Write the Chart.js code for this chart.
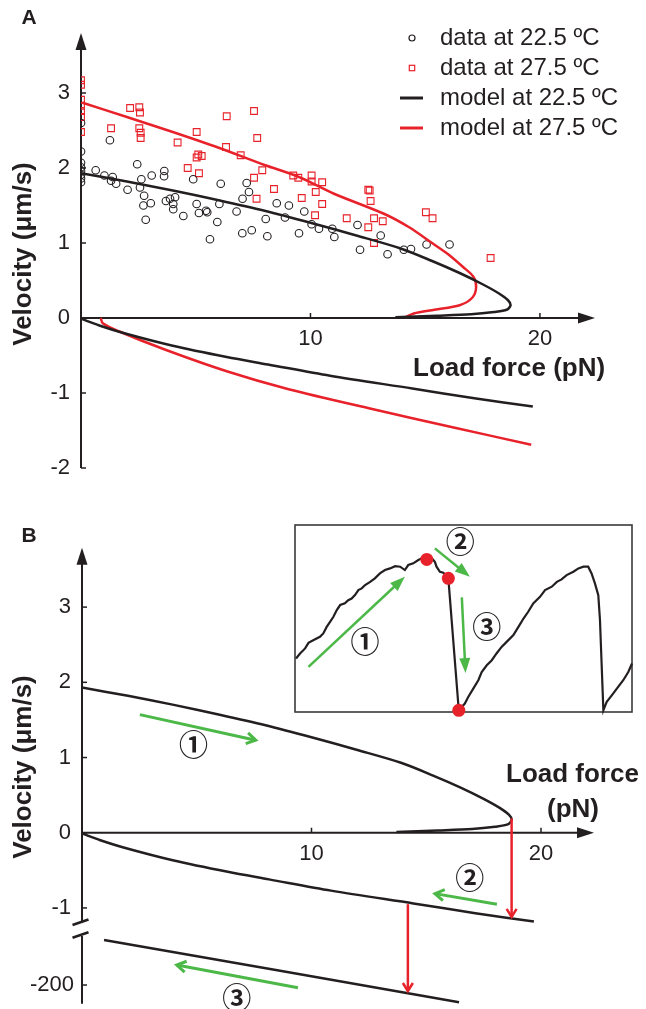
<!DOCTYPE html>
<html>
<head>
<meta charset="utf-8">
<script src="https://cdn.jsdelivr.net/npm/chart.js@4.4.1/dist/chart.umd.min.js"></script>
<style>
  body { margin: 0; background: #fff; }
  #wrap { position: relative; width: 646px; height: 1009px; overflow: hidden; }
  canvas { position: absolute; }
</style>
</head>
<body>
<div id="wrap">
  <canvas id="chartA" width="646" height="500" style="left:0;top:0"></canvas>
  <canvas id="chartB" width="646" height="509" style="left:0;top:500px"></canvas>
  <canvas id="inset" width="357" height="207" style="left:285px;top:515px"></canvas>
</div>
<script>
// ---- panel A: measured velocities (force in pN, velocity in µm/s) ----
const circleForce = [0, 0, 0, 0, 0, 0, 0, 0, 0.64, 1.02, 1.26, 1.31, 1.38, 1.53, 2.03, 2.45, 2.57, 2.63,
  2.72, 2.75, 2.82, 3.04, 3.08, 3.62, 3.63, 3.70, 3.88, 4.02, 4.02, 4.10, 4.46, 4.89, 5.04, 5.14, 5.45, 5.50,
  5.62, 5.94, 6.03, 6.09, 6.78, 7.03, 7.04, 7.22, 7.32, 7.44, 8.05, 8.12, 8.53, 8.89, 9.06, 9.50, 9.73, 10.05,
  10.37, 10.95, 11.04, 12.05, 12.16, 13.06, 13.36, 14.07, 14.38, 15.06, 16.06];
const circleVel = [2.60, 2.22, 2.07, 2.01, 1.96, 1.91, 1.86, 1.81, 1.97, 1.90, 2.37, 1.83, 1.88, 1.79, 1.71, 2.05, 1.74, 1.85,
  1.50, 1.63, 1.31, 1.53, 1.90, 1.89, 1.96, 1.56, 1.59, 1.52, 1.45, 1.61, 1.36, 1.85, 1.52, 1.40, 1.43, 1.41,
  1.05, 1.28, 1.52, 1.79, 1.42, 1.13, 1.59, 1.80, 1.68, 1.17, 1.32, 1.09, 1.53, 1.34, 1.50, 1.13, 1.42, 1.25,
  1.19, 1.19, 1.08, 1.24, 0.91, 1.10, 0.85, 0.91, 0.92, 0.98, 0.98];

const squareForce = [0, 0, 0, 0, 0, 0, 0, 1.31, 2.14, 2.54, 2.57, 2.54, 2.60, 2.60, 4.21, 4.65, 5.04,
  5.04, 5.11, 5.14, 5.26, 6.32, 6.35, 6.96, 7.54, 7.54, 7.65, 7.68, 7.90, 8.41, 9.25, 9.47, 9.62, 10.05, 10.05,
  10.20, 10.23, 10.51, 10.51, 11.58, 12.52, 12.58, 12.52, 12.62, 12.77, 12.77, 13.15, 15.03, 15.32, 17.85];
const squareVel = [3.17, 3.11, 2.91, 2.83, 2.76, 2.68, 2.48, 2.53, 2.80, 2.81, 2.74, 2.53, 2.47, 2.40, 2.34, 2.00, 2.48,
  2.14, 2.18, 1.93, 2.16, 2.28, 2.69, 2.17, 2.76, 1.87, 1.59, 2.40, 1.97, 1.72, 1.90, 1.87, 1.60, 1.90, 1.82,
  1.37, 1.68, 1.81, 1.52, 1.33, 1.71, 1.70, 1.21, 1.56, 1.33, 1.00, 1.29, 1.41, 1.33, 0.80];

// ---- model curves ----
const coldUpF = [0, 2, 4, 6, 8, 10, 12, 13.9, 15.3, 16.5, 17.5, 18.2, 18.6, 18.72, 18.55, 18.0, 17.0, 15.5, 13.7];
const coldUpV = [1.93, 1.82, 1.70, 1.57, 1.43, 1.27, 1.10, 0.93, 0.76, 0.60, 0.45, 0.33, 0.24, 0.17, 0.11, 0.08, 0.05, 0.03, 0.01];
const coldLowF = [0, 0.8, 1.85, 4, 6.35, 8.15, 10.85, 14.44, 17.14, 19.69];
const coldLowV = [-0.01, -0.10, -0.20, -0.37, -0.52, -0.62, -0.77, -0.94, -1.07, -1.18];

const warmUpF = [0.07, 2, 4, 6, 8, 9.5, 11, 13.2, 14.3, 15.3, 16.0, 16.65, 17.1, 17.22, 17.05, 16.5, 15.4, 14.5, 14.15];
const warmUpV = [2.87, 2.68, 2.48, 2.27, 2.04, 1.88, 1.66, 1.39, 1.21, 1.00, 0.85, 0.68, 0.55, 0.41, 0.27, 0.17, 0.11, 0.06, 0.01];
const warmLowF = [0.86, 0.95, 1.67, 3.65, 6.35, 9.05, 12.64, 16.24, 19.62];
const warmLowV = [0, -0.07, -0.18, -0.42, -0.71, -0.95, -1.21, -1.46, -1.69];

// ---- panel B: third (fast) branch, velocity in µm/s on the broken axis ----
const branch3F = [0.96, 16.43];
const branch3V = [-140, -223];

// tick labels
const xTicks = [10, 20];
const yTicksA = [-2, -1, 0, 1, 2, 3];
const yTicksB = [-1, 0, 1, 2, 3];
const yTicksBLow = [-200];
const legendLabels = ['data at 22.5 ºC', 'data at 27.5 ºC', 'model at 22.5 ºC', 'model at 27.5 ºC'];
const circled = ['①', '②', '③'];

// panel B annotations: [force, velocity] pairs, tail -> head
const stepArrows = [
  { from: [2.52, 1.57], to: [7.57, 1.23], axis: ['y', 'y'] },
  { from: [18.08, -0.95], to: [15.38, -0.81], axis: ['y', 'y'] },
  { from: [9.41, -203.6], to: [4.13, -173.4], axis: ['yLow', 'yLow'] }
];
const jumpArrows = [
  { from: [18.72, 0.19], to: [18.72, -1.12], axis: ['y', 'y'] },
  { from: [14.2, -0.95], to: [14.2, -208], axis: ['y', 'yLow'] }
];
const stepLabels = [
  { at: [4.86, 1.17], axis: 'y' },
  { at: [16.9, -0.60], axis: 'y' },
  { at: [6.74, -217.5], axis: 'yLow' }
];

// ---- inset: force trace (time, force in arbitrary units) ----
const traceT = [0.3, 1.5, 3.0, 4.0, 5.4, 7.4, 8.4, 9.4, 10.4, 11.4, 12.4, 13.4, 14.8, 15.8, 16.8, 17.8, 18.8, 19.8,
  20.8, 22.3, 23.7, 25.2, 26.7, 28.2, 29.7, 31.2, 32.6, 33.6, 35.1, 36.6, 37.6, 39.1, 40.6, 41.5, 42.0, 43.0, 44.0,
  45.5, 48.6, 50.4, 51.4, 52.9, 54.4, 55.4, 56.9, 58.4, 59.8, 61.3, 62.8, 64.8, 66.3, 67.8, 69.2, 70.7, 72.7, 74.2,
  76.2, 77.7, 79.1, 80.6, 82.6, 84.1, 85.6, 87.0, 88.0, 89.0, 90.0, 90.5, 91.0, 91.5, 92.5, 94.0, 95.5, 97.4, 98.9, 100];
const traceF = [28.6, 31.3, 34.0, 37.0, 38.4, 40.2, 42.0, 45.5, 48.2, 50.9, 54.5, 57.2, 58.1, 59.8, 60.7, 62.5, 65.2, 66.1,
  67.9, 69.6, 71.5, 74.1, 75.9, 76.8, 78.0, 77.7, 75.9, 78.6, 79.5, 81.3, 82.2, 81.6, 82.2, 80.3, 77.7, 75.0, 74.5,
  71.5, 0.9, 4.5, 8.0, 12.5, 17.0, 21.4, 25.0, 27.7, 31.3, 34.8, 37.5, 41.1, 45.5, 50.0, 53.6, 58.1, 61.6, 65.2,
  67.0, 69.6, 70.9, 73.2, 75.0, 76.8, 77.7, 77.7, 74.1, 68.8, 62.5, 49.1, 25.0, 0.9, 5.4, 8.9, 12.5, 17.0, 21.4, 25.9];
const dotT = [39.1, 45.5, 48.6];
const dotF = [81.6, 71.5, 0.9];
const insetArrows = [
  { from: [4.0, 24.1], to: [32.6, 72.3] },
  { from: [41.5, 87.5], to: [51.9, 72.3] },
  { from: [49.5, 61.3], to: [50.6, 20.8] }
];
const insetLabels = [[20.8, 37.5], [49.0, 91.0], [56.9, 45.5]];

// ---- styling ----
const FONT = '"Liberation Sans", Arial, Helvetica, sans-serif';
const CIRCLE_FONT = 'bold 29px "Noto Sans CJK JP", "DejaVu Sans", sans-serif';
const INK = '#231f20';
const RED = '#e8222a';
const GREEN = '#4cb848';
const AXIS_HEAD = { color: INK, width: 2, len: 17, half: 5.5, filled: true };

const pts = (xs, ys) => xs.map((x, i) => ({ x: x, y: ys[i] }));

function arrow(ctx, x1, y1, x2, y2, o) {
  const a = Math.atan2(y2 - y1, x2 - x1);
  const c = Math.cos(a), s = Math.sin(a);
  ctx.save();
  ctx.strokeStyle = o.color;
  ctx.fillStyle = o.color;
  ctx.lineWidth = o.width;
  ctx.beginPath();
  ctx.moveTo(x1, y1);
  if (o.filled) ctx.lineTo(x2 - c * o.len * 0.8, y2 - s * o.len * 0.8);
  else ctx.lineTo(x2, y2);
  ctx.stroke();
  const bx = x2 - c * o.len, by = y2 - s * o.len;
  const px = -s * o.half, py = c * o.half;
  ctx.beginPath();
  ctx.moveTo(bx + px, by + py);
  ctx.lineTo(x2, y2);
  ctx.lineTo(bx - px, by - py);
  if (o.filled) {
    ctx.closePath();
    ctx.fill();
  } else {
    ctx.lineJoin = 'miter';
    ctx.stroke();
  }
  ctx.restore();
}

function seg(ctx, x1, y1, x2, y2) {
  ctx.beginPath();
  ctx.moveTo(x1, y1);
  ctx.lineTo(x2, y2);
  ctx.stroke();
}

function text(ctx, str, x, y, font, align) {
  ctx.font = font;
  ctx.fillStyle = INK;
  ctx.textAlign = align || 'center';
  ctx.textBaseline = 'middle';
  ctx.fillText(str, x, y);
}

function vertText(ctx, str, x, y, font) {
  ctx.save();
  ctx.translate(x, y);
  ctx.rotate(-Math.PI / 2);
  text(ctx, str, 0, 0, font);
  ctx.restore();
}

function xAxisWithTicks(ctx, chart) {
  const { chartArea: area, scales: { x, y } } = chart;
  const x0 = x.getPixelForValue(0), y0 = y.getPixelForValue(0);
  arrow(ctx, x0 - 1, y0, area.right, y0, AXIS_HEAD);
  ctx.strokeStyle = INK;
  ctx.lineWidth = 1.5;
  xTicks.forEach(f => {
    const px = x.getPixelForValue(f);
    seg(ctx, px, y0, px, y0 - 5);
    text(ctx, String(f), px, y0 + 21, '22px ' + FONT);
  });
}

function yTicksDraw(ctx, scale, x0, values) {
  ctx.strokeStyle = INK;
  ctx.lineWidth = 1.5;
  values.forEach(v => {
    const py = scale.getPixelForValue(v);
    seg(ctx, x0, py, x0 + 5, py);
    text(ctx, String(v), x0 - 11, py, '22px ' + FONT, 'right');
  });
}

// ---------------- panel A ----------------
const panelA = {
  id: 'panelA',
  beforeDatasetsDraw(chart) {
    const { ctx, chartArea: area, scales: { x, y } } = chart;
    const x0 = x.getPixelForValue(0);
    ctx.save();
    arrow(ctx, x0, y.getPixelForValue(yTicksA[0]), x0, area.top, AXIS_HEAD);
    xAxisWithTicks(ctx, chart);
    yTicksDraw(ctx, y, x0, yTicksA);
    ctx.restore();
  },
  afterDraw(chart) {
    const ctx = chart.ctx;
    ctx.save();
    text(ctx, 'A', 29, 18, 'bold 21px ' + FONT);
    vertText(ctx, 'Velocity (μm/s)', 24, 254, 'bold 26px ' + FONT);
    text(ctx, 'Load force (pN)', 413, 369, 'bold 26px ' + FONT, 'left');
    // legend
    const rows = [38, 68, 98, 128];
    const mx = 412;
    ctx.lineWidth = 1.2;
    ctx.strokeStyle = INK;
    ctx.beginPath();
    ctx.arc(mx, rows[0], 3, 0, Math.PI * 2);
    ctx.stroke();
    ctx.strokeStyle = RED;
    ctx.strokeRect(mx - 2.7, rows[1] - 2.7, 5.4, 5.4);
    ctx.lineWidth = 3;
    ctx.strokeStyle = INK;
    seg(ctx, 400, rows[2], 423, rows[2]);
    ctx.strokeStyle = RED;
    seg(ctx, 400, rows[3], 423, rows[3]);
    legendLabels.forEach((l, i) => text(ctx, l, 440, rows[i], '24px ' + FONT, 'left'));
    ctx.restore();
  }
};

const lineStyle = (color) => ({ showLine: true, pointRadius: 0, borderColor: color, borderWidth: 2.5, tension: 0.3, fill: false });

new Chart(document.getElementById('chartA'), {
  type: 'scatter',
  data: {
    datasets: [
      Object.assign({ label: legendLabels[2], data: pts(coldUpF, coldUpV), order: 1 }, lineStyle(INK)),
      Object.assign({ label: legendLabels[2], data: pts(coldLowF, coldLowV), order: 1 }, lineStyle(INK)),
      Object.assign({ label: legendLabels[3], data: pts(warmUpF, warmUpV), order: 1 }, lineStyle(RED)),
      Object.assign({ label: legendLabels[3], data: pts(warmLowF, warmLowV), order: 1 }, lineStyle(RED)),
      {
        label: legendLabels[0], data: pts(circleForce, circleVel), order: 2,
        pointStyle: 'circle', pointRadius: 3.8, borderWidth: 1.1,
        borderColor: INK, backgroundColor: 'rgba(255,255,255,0)'
      },
      {
        label: legendLabels[1], data: pts(squareForce, squareVel), order: 2,
        pointStyle: 'rect', pointRadius: 4.8, borderWidth: 1.1,
        borderColor: RED, backgroundColor: 'rgba(255,255,255,0)'
      }
    ]
  },
  options: {
    responsive: false,
    animation: false,
    layout: { padding: { left: 81, right: 51, top: 33, bottom: 24.5 } },
    scales: {
      x: { type: 'linear', min: 0, max: 22.4, display: false },
      y: { type: 'linear', min: -2.1, max: 3.8, display: false }
    },
    plugins: { legend: { display: false }, tooltip: { enabled: false } }
  },
  plugins: [panelA]
});

// ---------------- panel B ----------------
const panelB = {
  id: 'panelB',
  beforeDatasetsDraw(chart) {
    const { ctx, chartArea: area, scales: { x, y, yLow } } = chart;
    const x0 = x.getPixelForValue(0);
    ctx.save();
    const brkTop = y.getPixelForValue(-1.19), brkBot = y.getPixelForValue(-1.36);
    arrow(ctx, x0, brkTop - 1, x0, area.top, AXIS_HEAD);
    ctx.strokeStyle = INK;
    ctx.lineWidth = 2;
    seg(ctx, x0, brkBot + 1, x0, area.bottom - 2);
    ctx.lineWidth = 2.6;
    [brkTop, brkBot].forEach(yc => seg(ctx, x0 - 9.5, yc + 2.7, x0 + 6.5, yc - 2.7));
    xAxisWithTicks(ctx, chart);
    yTicksDraw(ctx, y, x0, yTicksB);
    ctx.strokeStyle = INK;
    ctx.lineWidth = 1.5;
    yTicksBLow.forEach(v => {
      const py = yLow.getPixelForValue(v);
      seg(ctx, x0, py, x0 + 5, py);
      text(ctx, String(v), x0 - 8, py, '22px ' + FONT, 'right');
    });
    ctx.restore();
  },
  afterDraw(chart) {
    const { ctx, scales } = chart;
    const x = scales.x;
    ctx.save();
    text(ctx, 'B', 29, 36, 'bold 21px ' + FONT);
    vertText(ctx, 'Velocity (μm/s)', 24, 267, 'bold 26px ' + FONT);
    text(ctx, 'Load force', 506, 275, 'bold 26px ' + FONT, 'left');
    text(ctx, '(pN)', 573, 310, 'bold 26px ' + FONT);
    jumpArrows.forEach(a => {
      arrow(ctx, x.getPixelForValue(a.from[0]), scales[a.axis[0]].getPixelForValue(a.from[1]),
        x.getPixelForValue(a.to[0]), scales[a.axis[1]].getPixelForValue(a.to[1]),
        { color: RED, width: 2.5, len: 8, half: 5, filled: false });
    });
    stepArrows.forEach(a => {
      arrow(ctx, x.getPixelForValue(a.from[0]), scales[a.axis[0]].getPixelForValue(a.from[1]),
        x.getPixelForValue(a.to[0]), scales[a.axis[1]].getPixelForValue(a.to[1]),
        { color: GREEN, width: 3, len: 9, half: 5.5, filled: false });
    });
    stepLabels.forEach((l, i) => {
      text(ctx, circled[i], x.getPixelForValue(l.at[0]), scales[l.axis].getPixelForValue(l.at[1]), CIRCLE_FONT);
    });
    ctx.restore();
  }
};

// broken axis: -200 µm/s sits at main value -2.025, with 100 µm/s per main unit below the break
const B_MIN = -2.3, B_MAX = 3.79, LOW_AT = -2.025, LOW_PER_UNIT = 100;

new Chart(document.getElementById('chartB'), {
  type: 'scatter',
  data: {
    datasets: [
      Object.assign({ label: 'branch 1', data: pts(coldUpF, coldUpV) }, lineStyle(INK)),
      Object.assign({ label: 'branch 2', data: pts(coldLowF, coldLowV) }, lineStyle(INK)),
      Object.assign({ label: 'branch 3', data: pts(branch3F, branch3V), yAxisID: 'yLow' }, lineStyle(INK))
    ]
  },
  options: {
    responsive: false,
    animation: false,
    layout: { padding: { left: 82, right: 52, top: 47.7, bottom: 3.3 } },
    scales: {
      x: { type: 'linear', min: 0, max: 22.31, display: false },
      y: { type: 'linear', min: B_MIN, max: B_MAX, display: false },
      yLow: {
        type: 'linear', display: false,
        min: -200 + (B_MIN - LOW_AT) * LOW_PER_UNIT,
        max: -200 + (B_MAX - LOW_AT) * LOW_PER_UNIT
      }
    },
    plugins: { legend: { display: false }, tooltip: { enabled: false } }
  },
  plugins: [panelB]
});

// ---------------- inset ----------------
const insetPlugin = {
  id: 'insetFrame',
  beforeDatasetsDraw(chart) {
    const { ctx, chartArea: a } = chart;
    ctx.save();
    ctx.fillStyle = '#fff';
    ctx.fillRect(a.left, a.top, a.right - a.left, a.bottom - a.top);
    ctx.strokeStyle = '#3a3a3a';
    ctx.lineWidth = 1.6;
    ctx.strokeRect(a.left, a.top, a.right - a.left, a.bottom - a.top);
    ctx.restore();
  },
  afterDraw(chart) {
    const { ctx, scales: { x, y } } = chart;
    ctx.save();
    insetArrows.forEach(a => {
      arrow(ctx, x.getPixelForValue(a.from[0]), y.getPixelForValue(a.from[1]),
        x.getPixelForValue(a.to[0]), y.getPixelForValue(a.to[1]),
        { color: GREEN, width: 2.5, len: 15, half: 5.5, filled: true });
    });
    insetLabels.forEach((l, i) => {
      text(ctx, circled[i], x.getPixelForValue(l[0]), y.getPixelForValue(l[1]), CIRCLE_FONT);
    });
    ctx.restore();
  }
};

new Chart(document.getElementById('inset'), {
  type: 'scatter',
  data: {
    datasets: [
      {
        label: 'transitions', data: pts(dotT, dotF), order: 0,
        pointRadius: 6.5, pointBorderWidth: 0, backgroundColor: RED, borderColor: RED, clip: false
      },
      {
        label: 'trace', data: pts(traceT, traceF), order: 1, showLine: true, pointRadius: 0,
        borderColor: INK, borderWidth: 2.2, tension: 0, clip: false
      }
    ]
  },
  options: {
    responsive: false,
    animation: false,
    layout: { padding: 10 },
    scales: {
      x: { type: 'linear', min: 0, max: 100, display: false },
      y: { type: 'linear', min: 0, max: 100, display: false }
    },
    plugins: { legend: { display: false }, tooltip: { enabled: false } }
  },
  plugins: [insetPlugin]
});
</script>
</body>
</html>
